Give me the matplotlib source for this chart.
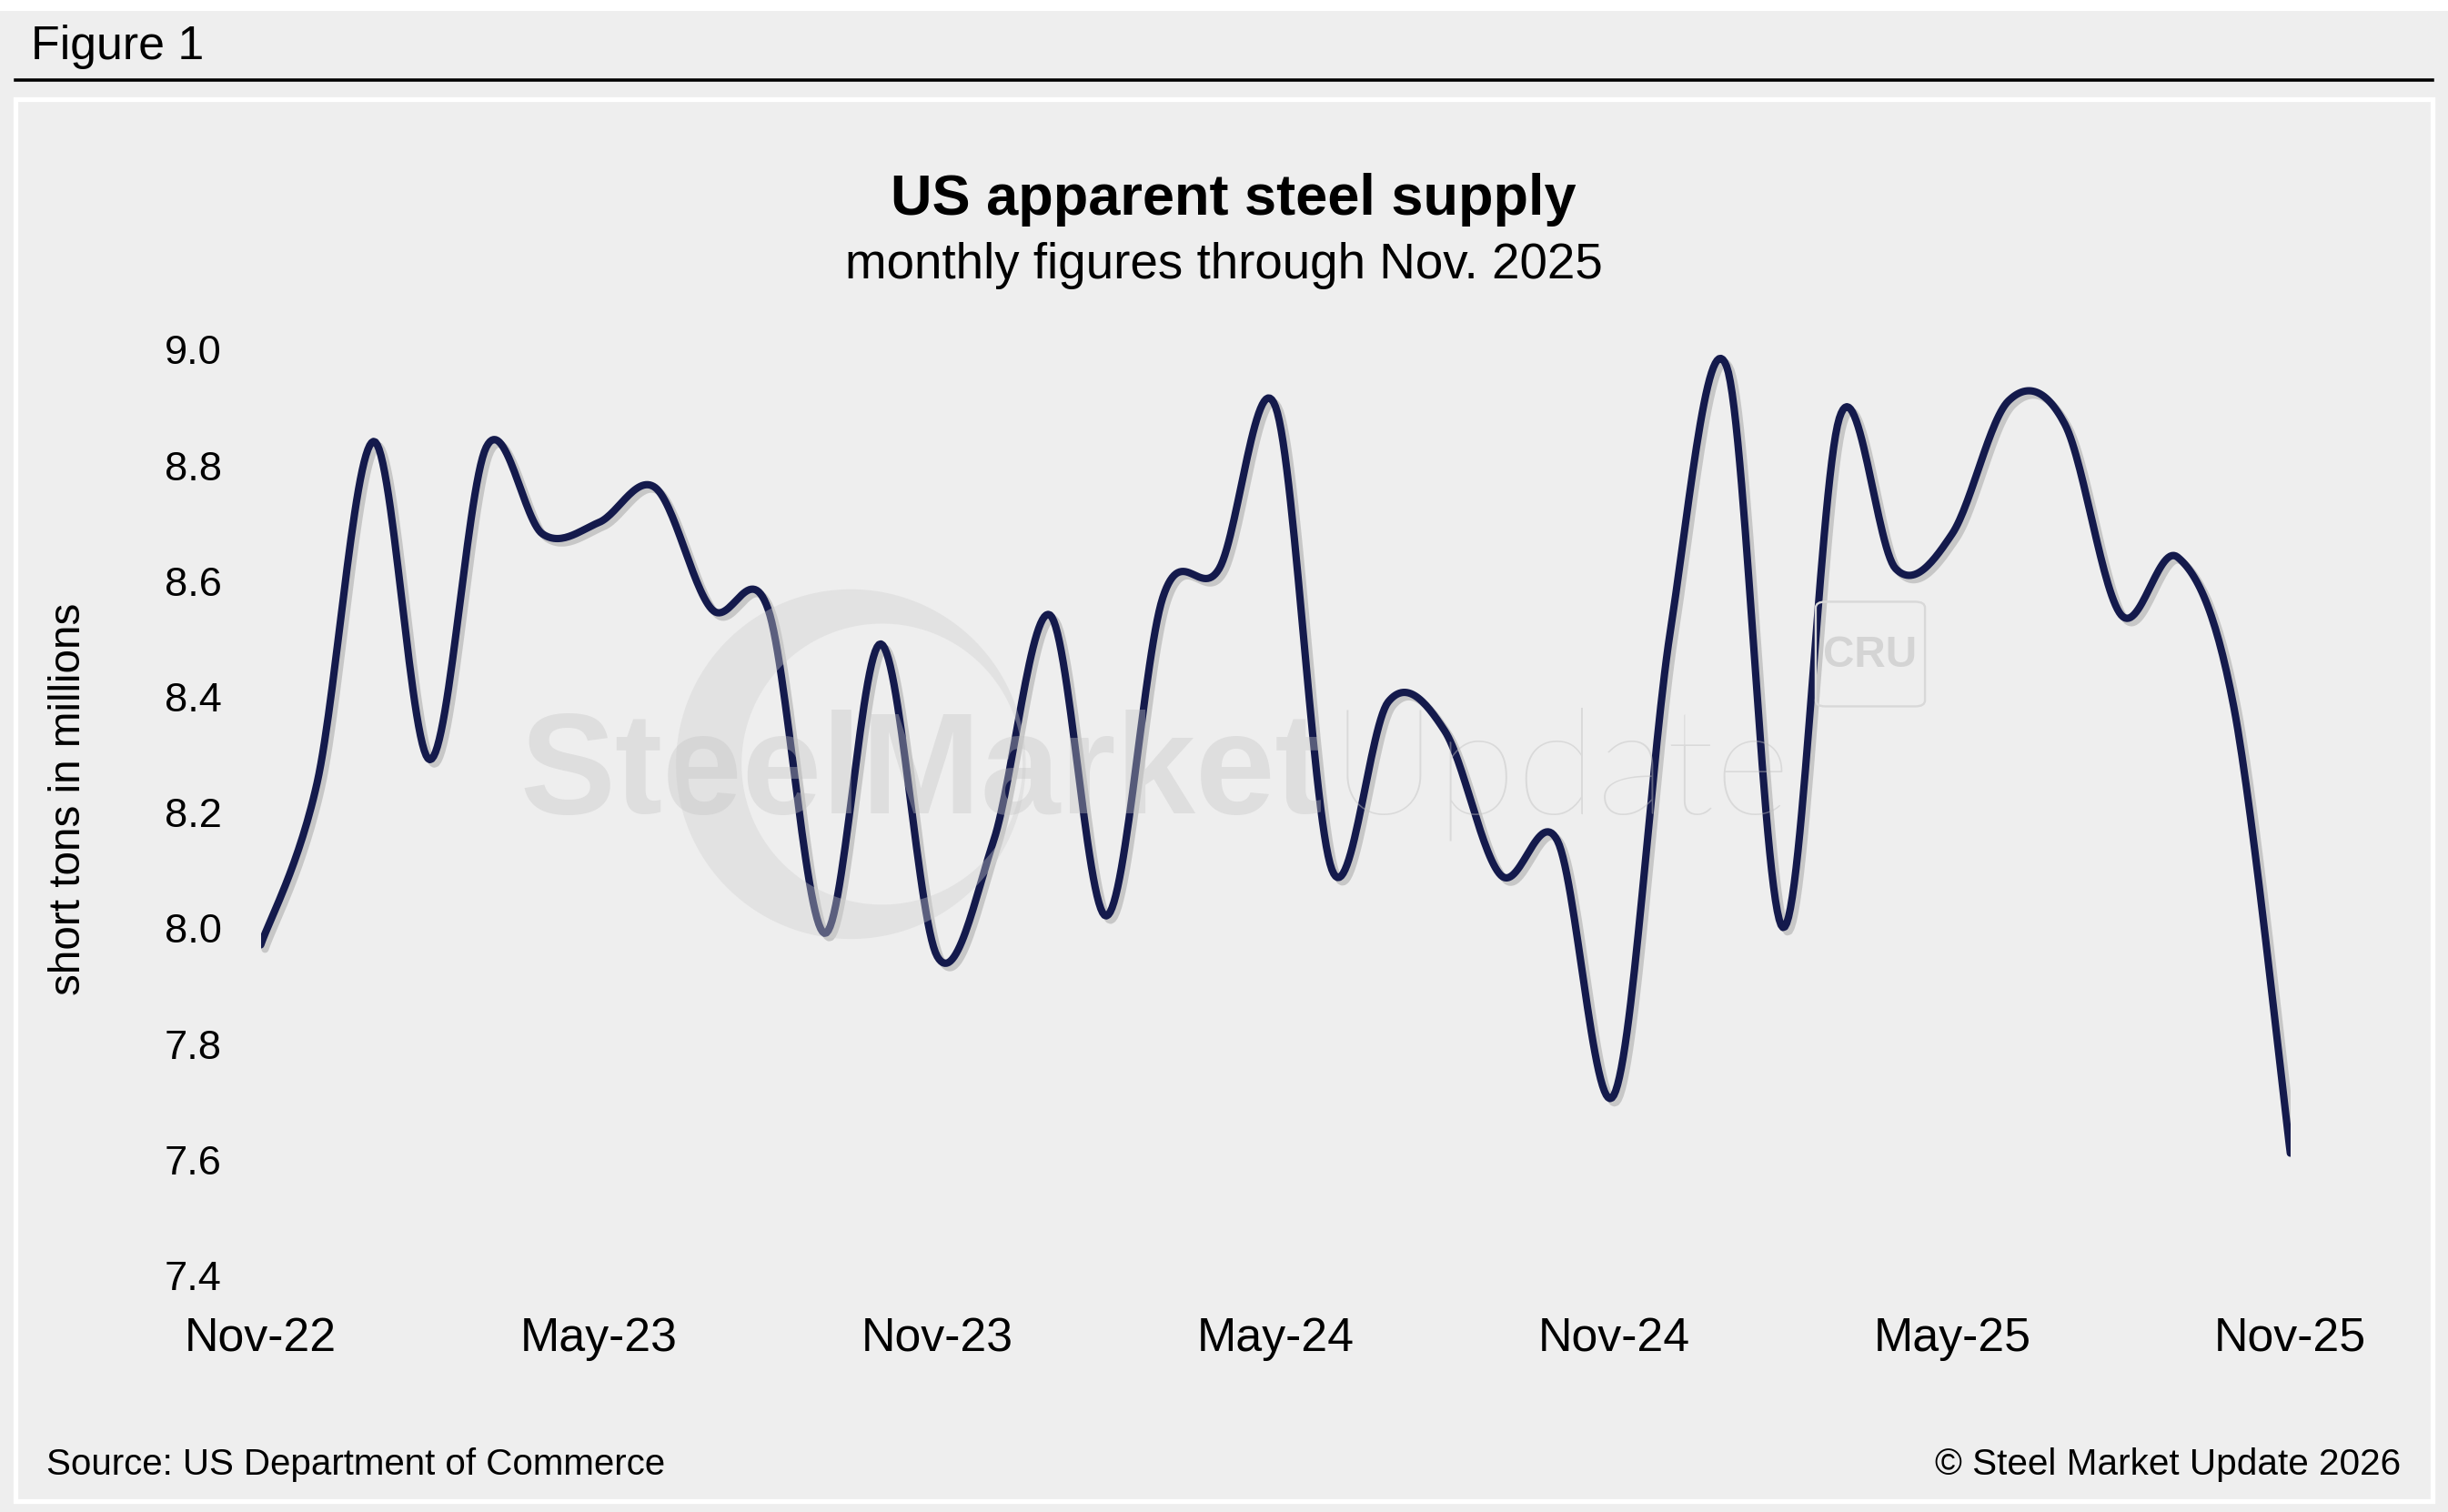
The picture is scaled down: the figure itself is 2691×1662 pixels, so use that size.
import numpy as np
import matplotlib
matplotlib.use('Agg')
import matplotlib.pyplot as plt
import matplotlib.patheffects as pe
from matplotlib.patches import Rectangle, PathPatch, FancyBboxPatch
from matplotlib.path import Path
from matplotlib.lines import Line2D

plt.rcParams['font.family'] = ['Liberation Sans', 'DejaVu Sans']

# monthly apparent steel supply, Nov-22 .. Nov-25 (million short tons)
months = ['Nov-22', 'Dec-22', 'Jan-23', 'Feb-23', 'Mar-23', 'Apr-23', 'May-23', 'Jun-23', 'Jul-23',
          'Aug-23', 'Sep-23', 'Oct-23', 'Nov-23', 'Dec-23', 'Jan-24', 'Feb-24', 'Mar-24', 'Apr-24',
          'May-24', 'Jun-24', 'Jul-24', 'Aug-24', 'Sep-24', 'Oct-24', 'Nov-24', 'Dec-24', 'Jan-25',
          'Feb-25', 'Mar-25', 'Apr-25', 'May-25', 'Jun-25', 'Jul-25', 'Aug-25', 'Sep-25', 'Oct-25',
          'Nov-25']
supply = [7.97, 8.25, 8.84, 8.29, 8.83, 8.68, 8.70, 8.76, 8.55,
          8.55, 7.99, 8.49, 7.95, 8.15, 8.54, 8.02, 8.57, 8.62,
          8.90, 8.10, 8.39, 8.34, 8.09, 8.15, 7.71, 8.51, 8.97,
          8.00, 8.88, 8.62, 8.68, 8.91, 8.87, 8.54, 8.64, 8.38,
          7.61]
tick_labels = ['Nov-22', 'May-23', 'Nov-23', 'May-24', 'Nov-24', 'May-25', 'Nov-25']
y_ticks = [7.4, 7.6, 7.8, 8.0, 8.2, 8.4, 8.6, 8.8, 9.0]

BG = '#eeeeee'
NAVY = '#141a4c'
W, H = 1568, 969  # layout grid in reference pixels


def smooth(x, y, n=30):
    # Catmull-Rom curve through the points (like a spreadsheet "smoothed line")
    x = np.asarray(x, float)
    y = np.asarray(y, float)
    px = np.concatenate([[x[0]], x, [x[-1]]])
    py = np.concatenate([[y[0]], y, [y[-1]]])
    xs, ys = [], []
    t = np.linspace(0, 1, n, endpoint=False)
    for i in range(1, len(px) - 2):
        for p, out in ((px, xs), (py, ys)):
            p0, p1, p2, p3 = p[i - 1], p[i], p[i + 1], p[i + 2]
            out.extend(0.5 * (2 * p1 + (-p0 + p2) * t + (2 * p0 - 5 * p1 + 4 * p2 - p3) * t ** 2
                              + (-p0 + 3 * p1 - 3 * p2 + p3) * t ** 3))
    xs.append(x[-1])
    ys.append(y[-1])
    return np.array(xs), np.array(ys)


fig = plt.figure(figsize=(15.68, 9.69), dpi=171.62)
fig.patch.set_facecolor(BG)

# white strip on top, header rule and inner white frame
fig.add_artist(Rectangle((0, 1 - 7.5 / H), 1, 7.5 / H, transform=fig.transFigure,
                         facecolor='white', edgecolor='none'))
fig.add_artist(Line2D([10 / W, 1558 / W], [1 - 52 / H, 1 - 52 / H], transform=fig.transFigure,
                      color='black', lw=1.5))
fig.add_artist(Rectangle((10 / W, 1 - 962 / H), 1548 / W, 898 / H, transform=fig.transFigure,
                         facecolor='none', edgecolor='white', lw=2.2))

fig.text(20 / W, 1 - 30 / H, 'Figure 1', fontsize=21.8, ha='left', va='center')
fig.text(790 / W, 1 - 128 / H, 'US apparent steel supply', fontsize=26.5, fontweight='bold',
         ha='center', va='center')
fig.text(784 / W, 1 - 170 / H, 'monthly figures through Nov. 2025', fontsize=23,
         ha='center', va='center')
fig.text(44 / W, 1 - 512 / H, 'short tons in millions', fontsize=20, rotation=90,
         ha='center', va='center')
fig.text(30 / W, 1 - 938 / H, 'Source: US Department of Commerce', fontsize=16.9,
         ha='left', va='center')
fig.text(1538 / W, 1 - 938 / H, '\u00a9 Steel Market Update 2026', fontsize=17,
         ha='right', va='center')

ax = fig.add_axes([167 / W, 1 - 817 / H, 1300 / W, 593 / H])
ax.set_facecolor('none')
x = np.arange(len(months))
sx, sy = smooth(x, supply)
ax.plot(sx, sy, color=NAVY, lw=3.4, solid_capstyle='round', zorder=3,
        path_effects=[pe.SimpleLineShadow(offset=(2, -2), shadow_color='black', alpha=0.16),
                      pe.Normal()])

ax.set_xlim(0, 36)
ax.set_ylim(7.4, 9.0)
ax.set_xticks([months.index(m) for m in tick_labels])
ax.set_xticklabels(tick_labels, fontsize=21.8)
ax.set_yticks(y_ticks)
ax.set_yticklabels([f'{v:.1f}' for v in y_ticks], fontsize=19)
ax.tick_params(length=0)
ax.tick_params(axis='x', pad=19)
ax.tick_params(axis='y', pad=18)
for s in ax.spines.values():
    s.set_visible(False)

# faint watermark
th = np.linspace(0, 2 * np.pi, 200)
outer = np.column_stack([545 + 112 * np.cos(th), 490 + 112 * np.sin(th)])
inner = np.column_stack([565 + 90 * np.cos(th[::-1]), 490 + 90 * np.sin(th[::-1])])
verts = np.vstack([outer, inner])
verts[:, 0] /= W
verts[:, 1] = 1 - verts[:, 1] / H
codes = ([Path.MOVETO] + [Path.LINETO] * 198 + [Path.CLOSEPOLY]) * 2
fig.add_artist(PathPatch(Path(verts, codes), facecolor='#d0d0d0', edgecolor='none', alpha=0.38,
                         zorder=10, transform=fig.transFigure))
fig.text(333 / W, 1 - 521 / H, 'SteelMarket', fontsize=66, fontweight='bold',
         ha='left', va='baseline', color='#c4c4c4', alpha=0.38, zorder=10,
         transform=fig.transFigure)
fig.text(852 / W, 1 - 521 / H, 'Update', fontsize=68, fontweight='light', family='Lato',
         ha='left', va='baseline', color='#c0c0c0', alpha=0.45, zorder=10,
         transform=fig.transFigure)
fig.add_artist(FancyBboxPatch((1163 / W, 1 - 453 / H), 70 / W, 67 / H,
                              boxstyle='round,pad=0,rounding_size=0.004', facecolor='none',
                              edgecolor='#d8d8d8', lw=1.0, transform=fig.transFigure, zorder=10))
fig.text(1198 / W, 1 - 420 / H, 'CRU', fontsize=20, fontweight='bold', ha='center', va='center',
         color='#d4d4d4', zorder=10, transform=fig.transFigure)

fig.savefig('out.png', dpi=171.62, facecolor=BG)
